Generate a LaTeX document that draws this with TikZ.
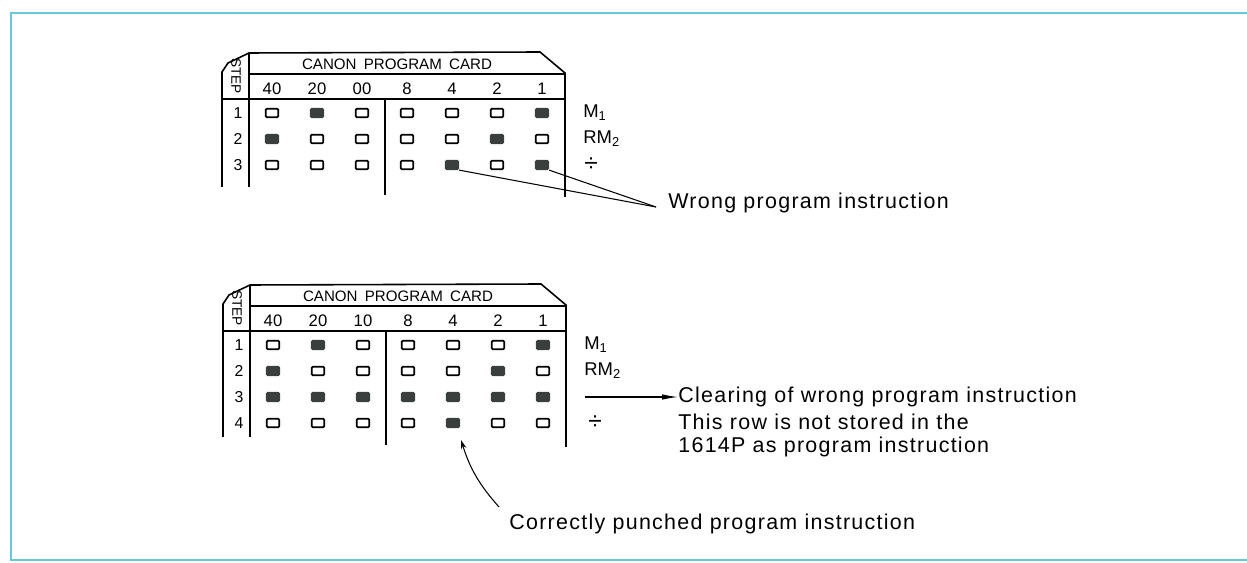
\documentclass[tikz,border=0pt]{standalone}
\usepackage{fontspec}
\setmainfont{Liberation Sans}
\newfontfamily\notefont[LetterSpace=6]{Liberation Sans}
\usetikzlibrary{arrows.meta}
\definecolor{framecyan}{RGB}{105,200,215}
\definecolor{punchgray}{RGB}{58,62,60}
\tikzset{
  hole0/.style={draw=black, fill=white, line width=1pt, rounded corners=0.6pt,
    minimum width=0.25cm, minimum height=0.17cm, inner sep=0pt},
  hole1/.style={hole0, draw=punchgray, fill=punchgray},
  cardline/.style={line width=0.9pt},
  lbl/.style={font=\fontsize{9}{10}\selectfont, inner sep=0pt},
  fn/.style={font=\fontsize{10.5}{12}\selectfont, anchor=west, inner sep=0pt},
  note/.style={font=\notefont\fontsize{12.2}{14}\selectfont, anchor=west, inner sep=0pt},
  leader/.style={line width=0.6pt}
}
% outline, headings and row numbers of one card (bottom, third column, rows)
\newcommand{\cardframe}[3]{%
  \draw[cardline] (222,#1) -- (222,72) -- (228,63) -- (249,53) -- (540,52) -- (565,73) -- (565,#1+10);
  \draw[cardline] (249,53) -- (249,#1);
  \draw[cardline] (249,74) -- (565,74);
  \draw[cardline] (222,99) -- (565,99);
  \draw[cardline] (385,99) -- (385,#1+8);
  \node[lbl, rotate=-90, font=\fontsize{7.8}{9}\selectfont] at (236,76) {STEP};
  \node[lbl, font=\fontsize{8.6}{10}\selectfont] at (397,64) {CANON\hspace{0.2em} PROGRAM\hspace{0.2em} CARD};
  \foreach \t [count=\c] in {40,20,#2,8,4,2,1}
    \node[lbl, font=\fontsize{9.5}{10}\selectfont] at ({272+45*(\c-1)},89) {\t};
  \foreach \r in {1,...,#3}
    \node[lbl] at (238,{87+26*\r}) {\r};
}
\begin{document}
\begin{tikzpicture}[x=0.02cm, y=-0.02cm, >=stealth]
    \useasboundingbox (0,0) rectangle (1247,563);
    % Page frame
    \draw[framecyan, line width=1.3pt] (1247,13) -- (11,13) -- (11,560) -- (1247,560);

    % Card with the wrong instruction
    \begin{scope}
        \cardframe{187}{00}{3}
        \foreach \pat [count=\r] in {{0,1,0,0,0,0,1},{1,0,0,0,0,1,0},{0,0,0,0,1,0,1}}
            \foreach \p [count=\c] in \pat
                \node[hole\p] (a-\r-\c) at ({272+45*(\c-1)},{87+26*\r}) {};
        \node[fn] (a-m1) at (583,113) {M\textsubscript{1}};
        \node[fn] (a-rm2) at (583,139) {RM\textsubscript{2}};
        \node[fn, anchor=center, font=\fontsize{14}{14}\selectfont] (a-div) at (591,165) {÷};
    \end{scope}

    % Wrong instruction label
    \node[note] (wrong) at (668,203) {Wrong program instruction};
    \coordinate (wrongtip) at (656,207);
    \draw[leader] (a-3-5.south east) -- (wrongtip);
    \draw[leader] (a-3-7.south east) -- (wrongtip);

    % Card with the cleared row
    \begin{scope}[shift={(1,232)}]
        \cardframe{205}{10}{4}
        \foreach \pat [count=\r] in {{0,1,0,0,0,0,1},{1,0,0,0,0,1,0},{1,1,1,1,1,1,1},{0,0,0,0,1,0,0}}
            \foreach \p [count=\c] in \pat
                \node[hole\p] (b-\r-\c) at ({272+45*(\c-1)},{87+26*\r}) {};
        \node[fn] (b-m1) at (583,113) {M\textsubscript{1}};
        \node[fn] (b-rm2) at (583,139) {RM\textsubscript{2}};
        \node[fn, anchor=center, font=\fontsize{14}{14}\selectfont] (b-div) at (594,191) {÷};
        \coordinate (clrtail) at (584,165);
    \end{scope}

    % Clearing labels
    \node[note] (clear) at (678,397) {Clearing of wrong program instruction};
    \node[note] (clear2) at (678,422) {This row is not stored in the};
    \node[note] (clear3) at (678,447) {1614P as program instruction};
    \draw[leader, -{Latex[length=3.2mm, width=1.1mm]}] (clrtail) -- (clear.west);

    % Correct instruction label
    \node[note] (correct) at (509,524) {Correctly punched program instruction};
    \coordinate (corrtail) at (499,507);
    \coordinate (corrtip) at (461,440);
    \draw[leader, -{Stealth[length=1.8mm, width=1.1mm]}] (corrtail) to[bend left=12] (corrtip);
\end{tikzpicture}
\end{document}
